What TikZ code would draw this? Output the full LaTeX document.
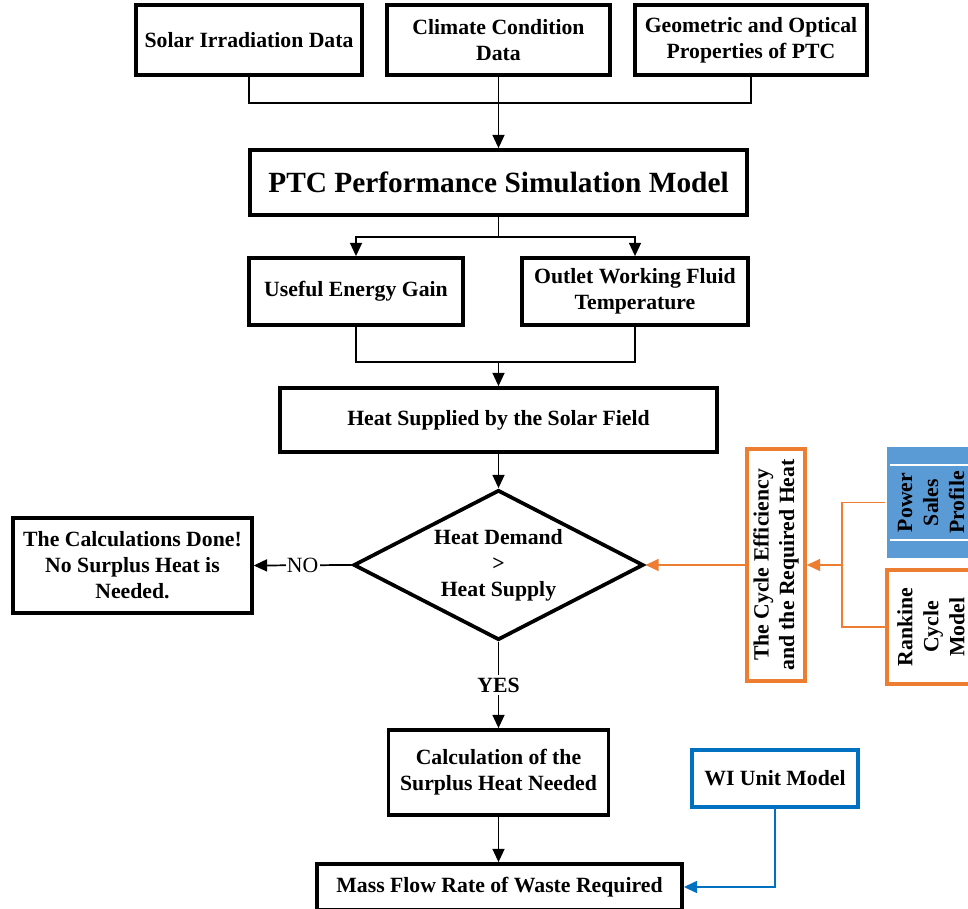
\documentclass[tikz,border=0pt]{standalone}
\usepackage{fontspec}
\setmainfont{Liberation Serif}
\usetikzlibrary{shapes.geometric,arrows.meta}
\definecolor{orng}{RGB}{237,125,49}
\definecolor{bluln}{RGB}{0,112,192}
\definecolor{blufill}{RGB}{91,155,213}
\begin{document}
\begin{tikzpicture}[x=0.75pt,y=-0.75pt,
  box/.style={draw, line width=2.8pt, align=center, inner sep=2pt, font=\bfseries\fontsize{16.3}{19.5}\selectfont},
  ln/.style={line width=1.3pt},
  arr/.style={ln, -{Triangle[length=10pt,width=9pt]}},
  oln/.style={draw=orng, line width=1.3pt},
  oarr/.style={oln, -{Triangle[length=10pt,width=9pt]}, orng},
  barr/.style={draw=bluln, line width=1.6pt, -{Triangle[length=10pt,width=9pt]}, bluln}]
\useasboundingbox (0,0) rectangle (968,909);
% top row
\node[box, minimum width=169.5pt, minimum height=52.5pt] (solar) at (249,40) {Solar Irradiation Data};
\node[box, minimum width=167.25pt, minimum height=52.5pt] (climate) at (498.5,40) {Climate Condition\\Data};
\node[box, minimum width=174pt, minimum height=52.5pt] (geo) at (751,40) {Geometric and Optical\\Properties of PTC};
\node[box, minimum width=372.75pt, minimum height=48.75pt, font=\bfseries\fontsize{22}{26}\selectfont] (ptc) at (498.5,182.5) {PTC Performance Simulation Model};
\node[box, minimum width=160.5pt, minimum height=50.25pt] (useful) at (356,291.5) {Useful Energy Gain};
\node[box, minimum width=169.5pt, minimum height=50.25pt] (outlet) at (635,291.5) {Outlet Working Fluid\\Temperature};
\node[box, minimum width=327.75pt, minimum height=48pt] (heat) at (498.5,420) {Heat Supplied by the Solar Field};
\node[box, diamond, aspect=1.93, inner sep=0pt, minimum width=217.5pt, minimum height=112.5pt] (dia) at (498.5,565) {Heat Demand\\>\\Heat Supply};
\node[box, minimum width=179pt, minimum height=71.25pt] (done) at (132.5,565.5) {The Calculations Done!\\No Surplus Heat is\\Needed.};
\node[box, minimum width=165pt, minimum height=63.75pt] (calc) at (498.5,772.5) {Calculation of the\\Surplus Heat Needed};
\node[box, minimum width=273.75pt, minimum height=34.5pt] (mass) at (499.5,887) {Mass Flow Rate of Waste Required};
\node[box, draw=bluln, minimum width=124.5pt, minimum height=42.75pt] (wi) at (775,778.5) {WI Unit Model};
% orange side
\node[box, draw=orng, rotate=90, minimum width=174pt, minimum height=43.5pt, font=\bfseries\fontsize{16.3}{19}\selectfont] (cyc) at (776,565) {The Cycle Efficiency\\and the Required Heat};
\node[box, draw=none, fill=blufill, rotate=90, minimum width=83pt, minimum height=66pt] (power) at (931,502.5) {Power\\Sales\\Profile};
\draw[white, line width=1.2pt] (890,465) -- (975,465);
\draw[white, line width=1.2pt] (890,540) -- (975,540);
\node[box, draw=orng, rotate=90, minimum width=85.5pt, minimum height=66pt] (rank) at (931,627) {Rankine\\Cycle\\Model};
% connectors
\coordinate (j1) at (498.5,103);
\coordinate (j2) at (498.5,237);
\coordinate (j3) at (498.5,362);
\coordinate (j4) at (842,565);
\draw[ln] (solar.south) |- (j1);
\draw[ln] (geo.south) |- (j1);
\draw[arr] (climate.south) -- (ptc.north);
\draw[ln] (ptc.south) -- (j2);
\draw[arr] (j2) -| (useful.north);
\draw[arr] (j2) -| (outlet.north);
\draw[ln] (useful.south) |- (j3) -| (outlet.south);
\draw[arr] (j3) -- (heat.north);
\draw[arr] (heat.south) -- (dia.north);
\draw[arr] (dia.west) -- node[fill=white, inner sep=1pt, font=\fontsize{16.3}{19}\selectfont]{NO} (done.east);
\draw[arr] (dia.south) -- node[fill=white, inner sep=2pt, font=\bfseries\fontsize{16.3}{19}\selectfont]{YES} (calc.north);
\draw[arr] (calc.south) -- (calc.south |- mass.north);
\draw[oln] (power) -| (j4) |- (rank);
\draw[oarr] (j4) -- (cyc);
\draw[oarr] (cyc) -- (dia.east);
\draw[barr] (wi.south) |- (mass.east);
\end{tikzpicture}
\end{document}
